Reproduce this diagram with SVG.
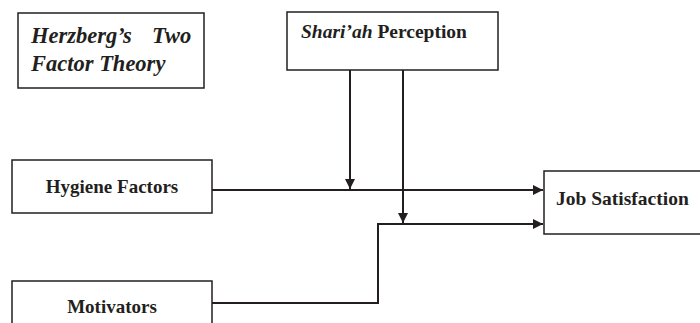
<svg xmlns="http://www.w3.org/2000/svg" width="700" height="323" viewBox="0 0 700 323">
<style>
.box{fill:#fff;stroke:#231f20;stroke-width:1.5}
.t{font-family:"Liberation Serif",serif;font-weight:bold;fill:#231f20}
.ln{fill:none;stroke:#231f20;stroke-width:2}
</style>
<defs>
<marker id="ah" viewBox="0 0 10 10" refX="10" refY="5" markerWidth="11" markerHeight="10" markerUnits="userSpaceOnUse" orient="auto">
<path d="M0,0 L10,5 L0,10 Z" fill="#231f20"/>
</marker>
</defs>
<rect width="700" height="323" fill="#fff"/>
<g id="herzberg">
<rect class="box" x="18" y="13" width="186" height="75"/>
<text class="t" font-style="italic" font-size="22.5" x="31" y="43">Herzberg’s<tspan x="152">Two</tspan></text>
<text class="t" font-style="italic" font-size="22.5" x="31" y="71">Factor Theory</text>
</g>
<g id="shariah">
<rect class="box" x="287" y="12" width="211" height="58"/>
<text class="t" font-size="19.5" x="301" y="38"><tspan font-style="italic">Shari’ah</tspan> Perception</text>
</g>
<g id="hygiene">
<rect class="box" x="12" y="160" width="200" height="53"/>
<text class="t" font-size="19" x="112" y="193" text-anchor="middle">Hygiene Factors</text>
</g>
<g id="job">
<rect class="box" x="544" y="171" width="170" height="63"/>
<text class="t" font-size="19.5" x="556" y="205">Job Satisfaction</text>
</g>
<g id="motivators">
<rect class="box" x="12" y="281" width="200" height="60"/>
<text class="t" font-size="19" x="112" y="313" text-anchor="middle">Motivators</text>
</g>
<g id="connectors">
<path class="ln" d="M212,190 L543,190" marker-end="url(#ah)"/>
<path class="ln" d="M212,303 L378,303 L378,224 L543,224" marker-end="url(#ah)"/>
<path class="ln" d="M350,70 L350,189" marker-end="url(#ah)"/>
<path class="ln" d="M403,70 L403,223" marker-end="url(#ah)"/>
</g>
</svg>
